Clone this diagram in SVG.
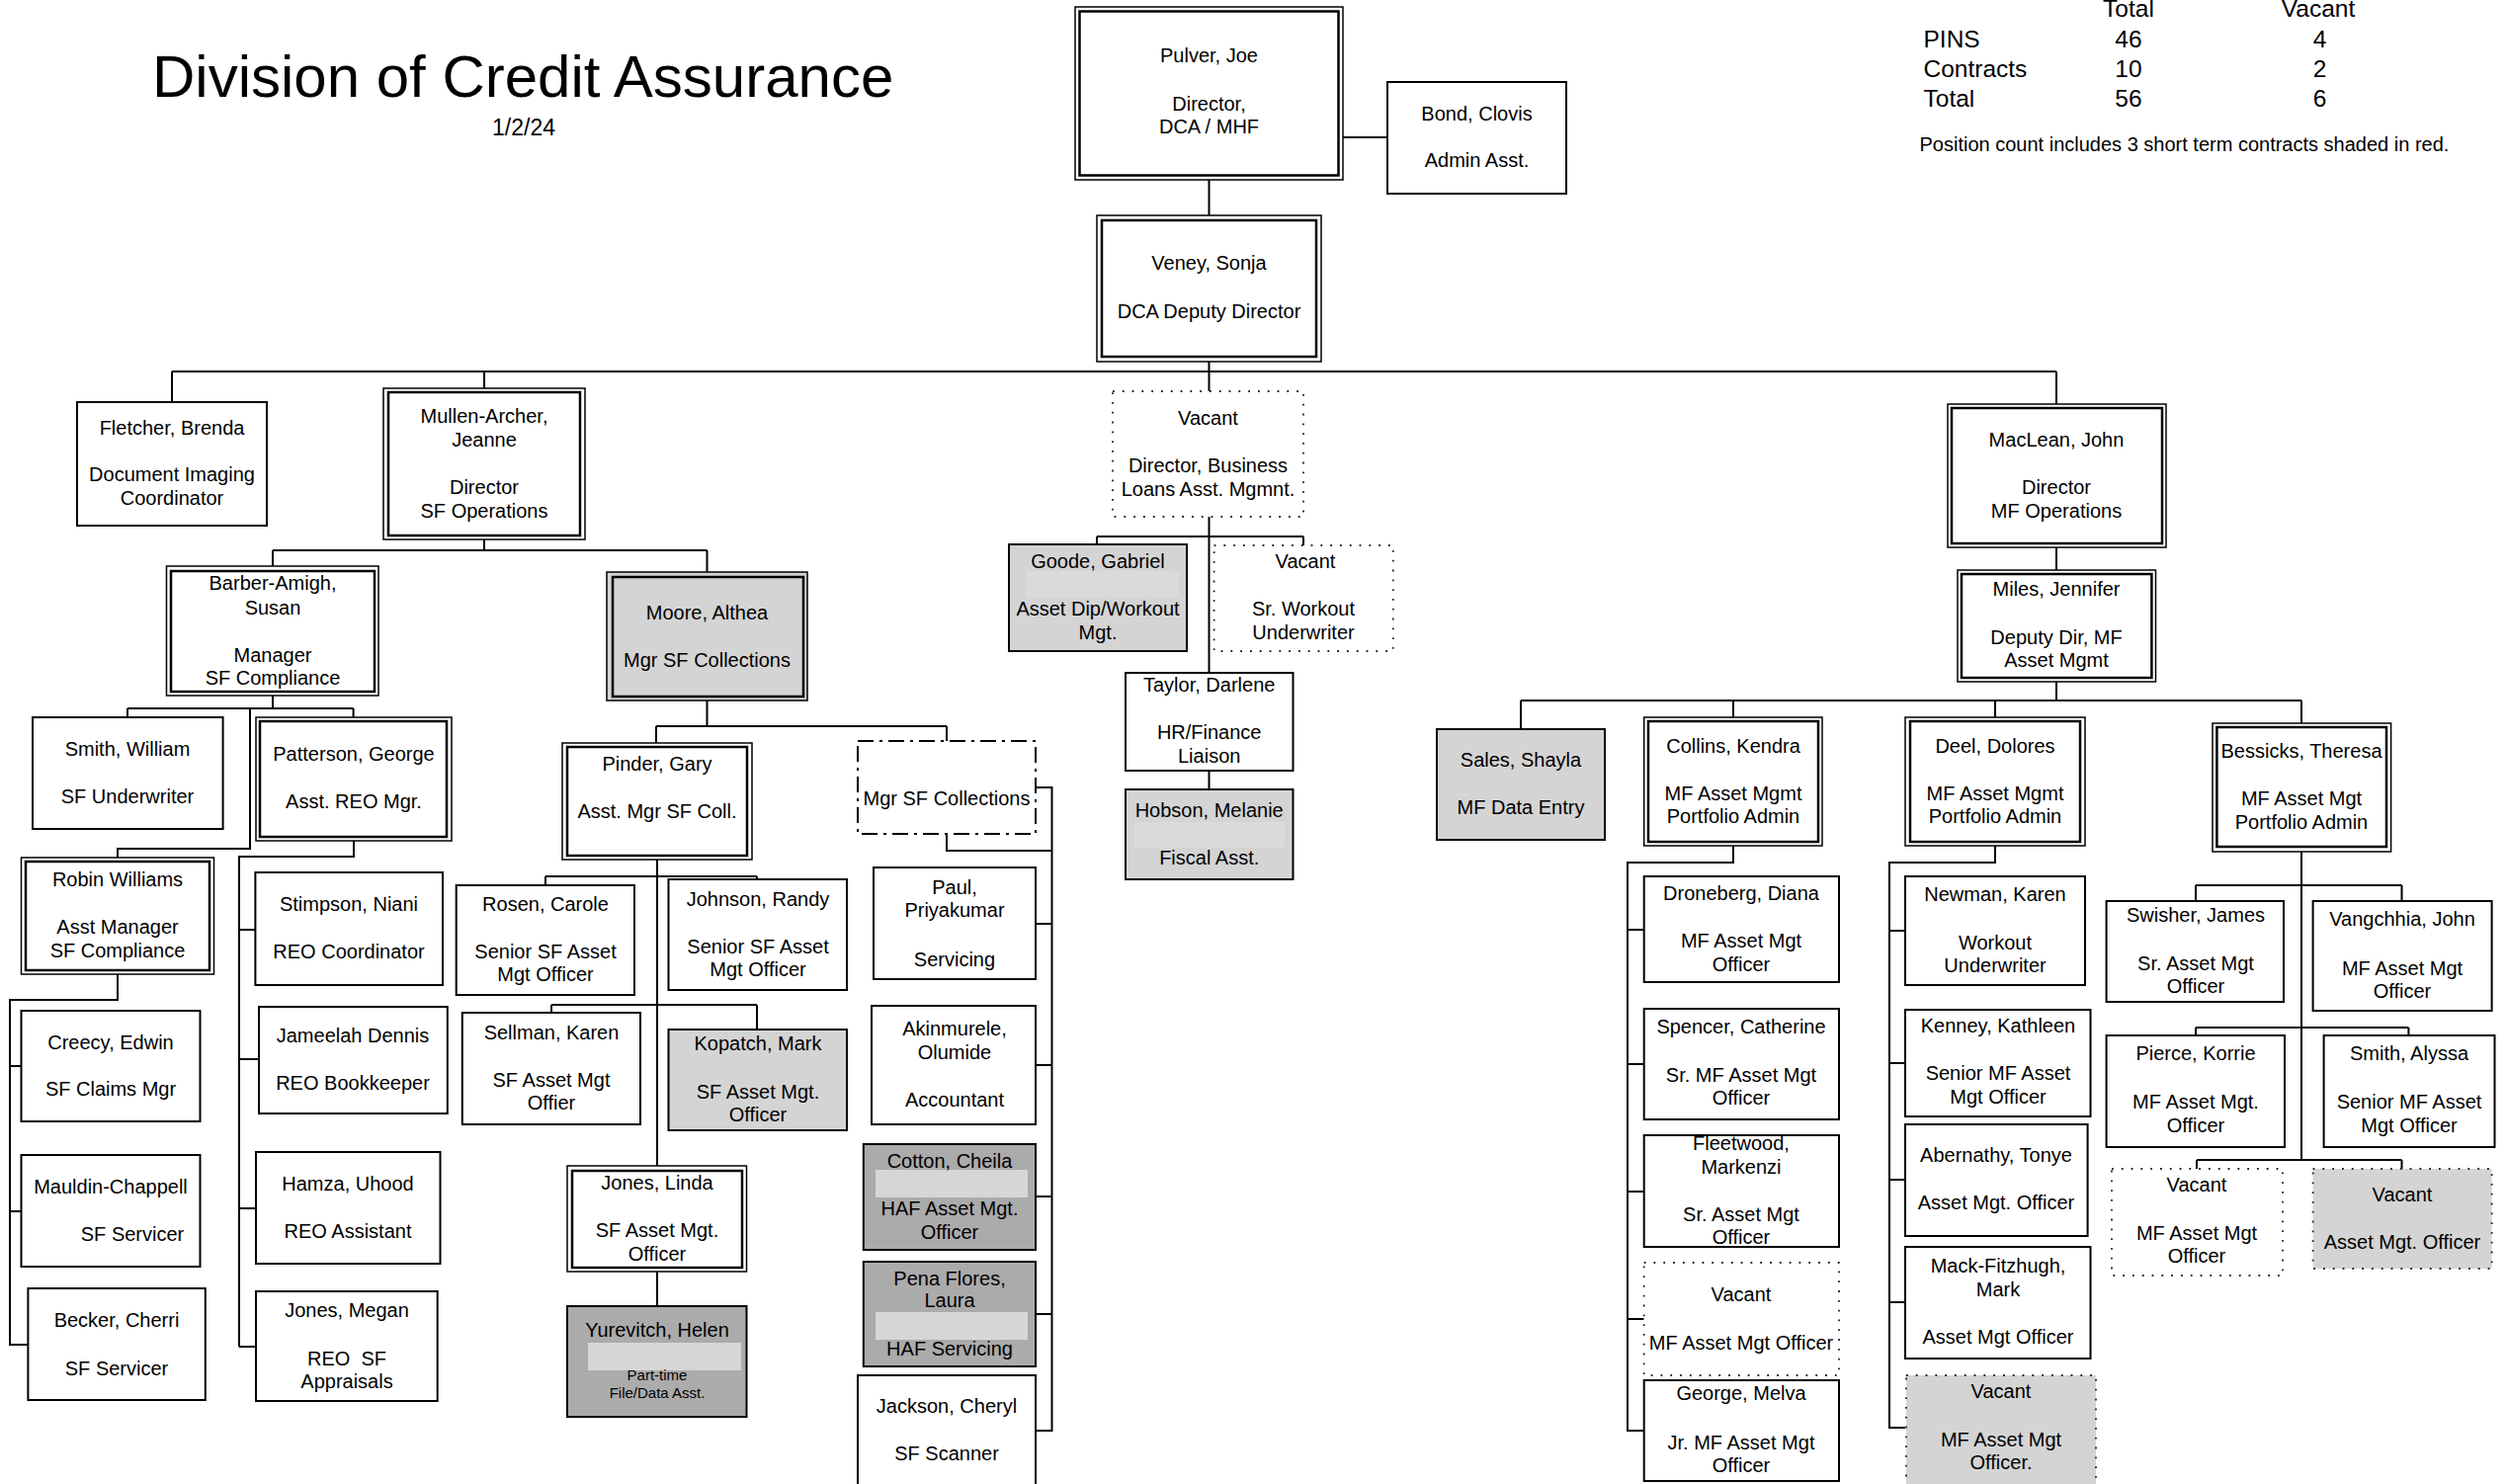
<svg xmlns="http://www.w3.org/2000/svg" width="2537" height="1502" viewBox="0 0 2537 1502">
<style>
text{font-family:"Liberation Sans",Arial,sans-serif;fill:#000}
.t{font-size:20px;text-anchor:middle}
.s{font-size:15px;text-anchor:middle}
.st{font-size:24.5px}
.b{fill:#fff;stroke:#000;stroke-width:2}
.o{fill:#fff;stroke:#000;stroke-width:1.5}
.i{fill:none;stroke:#000;stroke-width:2.5}
.g{fill:#d4d4d4}
.dg{fill:#ababab}
.dot{fill:#fff;stroke:#222;stroke-width:1.8;stroke-dasharray:1.8 8}
.dotg{fill:#d4d4d4;stroke:#222;stroke-width:1.8;stroke-dasharray:1.8 8}
.dd{fill:#fff;stroke:#000;stroke-width:2;stroke-dasharray:16 6 3 6}
.band{fill:#dadada}
.band2{fill:#d6d6d6}
#connectors path{fill:none;stroke:#000;stroke-width:2}
</style>

<g id="header">
<text x="154" y="98" style="font-size:60px">Division of Credit Assurance</text>
<text x="530" y="137" style="font-size:23px;text-anchor:middle">1/2/24</text>
</g>

<g id="stats">
<text class="st" x="2154" y="17" text-anchor="middle">Total</text>
<text class="st" x="2346" y="17" text-anchor="middle">Vacant</text>
<text class="st" x="1946.5" y="48">PINS</text>
<text class="st" x="2154" y="48" text-anchor="middle">46</text>
<text class="st" x="2347.5" y="48" text-anchor="middle">4</text>
<text class="st" x="1946.5" y="78">Contracts</text>
<text class="st" x="2154" y="78" text-anchor="middle">10</text>
<text class="st" x="2347.5" y="78" text-anchor="middle">2</text>
<text class="st" x="1946.5" y="108">Total</text>
<text class="st" x="2154" y="108" text-anchor="middle">56</text>
<text class="st" x="2347.5" y="108" text-anchor="middle">6</text>
<text x="1942.5" y="153" style="font-size:20px">Position count includes 3 short term contracts shaded in red.</text>
</g>

<g id="connectors">
<path d="M1223.5 182V218M1359 139H1404M1223.5 366V396"/>
<path d="M174 376H2081M174 376V407M490 376V393M2081 376V409"/>
<path d="M490 546V557M276 557H715.5M276 557V573M715.5 557V579"/>
<path d="M276 704V717M129 717H357.6M129 717V726M357.6 717V726M253 717V859H119V868"/>
<path d="M358 851V867H242V1363M242 941H258.4M242 1072H262M242 1223H259M242 1363H259"/>
<path d="M119 986V1012H10V1361H28.4M10 1079H21.5M10 1226H21.5"/>
<path d="M715.5 709V735M664 735H958M664 735V752M958 735V750"/>
<path d="M665 870V1180M552 887H766M552 887V896M766 887V890M558 1017H766M558 1017V1025M766 1017V1042M665 1287V1322"/>
<path d="M1048 797H1064.5V1448H1048M958 844V861H1064.5M1064.5 935H1048M1064.5 1078H1048M1064.5 1211H1048M1064.5 1330H1048"/>
<path d="M1223.5 523V681M1110 543H1319M1110 543V551M1319 543V552M1223.5 780V799"/>
<path d="M2081 554V577M2081 690V709M1539 709H2329M1539 709V738M1754 709V726M2019 709V726M2329 709V732"/>
<path d="M1754 856V873H1647V1448H1663.7M1647 941H1663.7M1647 1077H1663.7M1647 1206H1663.7M1647 1335H1663.7"/>
<path d="M2019 856V873H1912V1445H1928M1912 942H1928M1912 1076H1928M1912 1194H1928M1912 1318H1928"/>
<path d="M2329 862V1174M2222 896H2430.5M2222 896V912M2430.5 896V912M2222 1040H2437.4M2222 1040V1048M2437.4 1040V1048M2223 1174H2430.5M2223 1174V1183M2430.5 1174V1183"/>
</g>

<g id="n-pulver">
<rect class="o" x="1088" y="7" width="271" height="175"/>
<rect class="i" x="1092.5" y="11.5" width="262" height="166"/>
<text class="t" x="1223.5" y="63">Pulver, Joe</text>
<text class="t" x="1223.5" y="112">Director,</text>
<text class="t" x="1223.5" y="135">DCA / MHF</text>
</g>
<g id="n-bond">
<rect class="b" x="1404" y="83" width="181" height="113"/>
<text class="t" x="1494.5" y="122">Bond, Clovis</text>
<text class="t" x="1494.5" y="169">Admin Asst.</text>
</g>
<g id="n-veney">
<rect class="o" x="1110" y="218" width="227" height="148"/>
<rect class="i" x="1115" y="223" width="217" height="138"/>
<text class="t" x="1223.5" y="273">Veney, Sonja</text>
<text class="t" x="1223.5" y="322">DCA Deputy Director</text>
</g>
<g id="n-fletcher">
<rect class="b" x="78" y="407" width="192" height="125"/>
<text class="t" x="174" y="440">Fletcher, Brenda</text>
<text class="t" x="174" y="487">Document Imaging</text>
<text class="t" x="174" y="511">Coordinator</text>
</g>
<g id="n-mullen">
<rect class="o" x="388" y="393" width="204" height="153"/>
<rect class="i" x="393" y="397" width="194" height="145"/>
<text class="t" x="490" y="428">Mullen-Archer,</text>
<text class="t" x="490" y="452">Jeanne</text>
<text class="t" x="490" y="500">Director</text>
<text class="t" x="490" y="524">SF Operations</text>
</g>
<g id="n-vacant-dir">
<rect class="dot" x="1126" y="396" width="193" height="127"/>
<text class="t" x="1222.5" y="430">Vacant</text>
<text class="t" x="1222.5" y="478">Director, Business</text>
<text class="t" x="1222.5" y="502">Loans Asst. Mgmnt.</text>
</g>
<g id="n-maclean">
<rect class="o" x="1971" y="409" width="221" height="145"/>
<rect class="i" x="1975" y="413" width="213" height="137"/>
<text class="t" x="2081" y="452">MacLean, John</text>
<text class="t" x="2081" y="500">Director</text>
<text class="t" x="2081" y="524">MF Operations</text>
</g>
<g id="n-barber">
<rect class="o" x="168.5" y="573" width="214.5" height="131"/>
<rect class="i" x="173" y="578" width="206" height="122"/>
<text class="t" x="276" y="597">Barber-Amigh,</text>
<text class="t" x="276" y="622">Susan</text>
<text class="t" x="276" y="670">Manager</text>
<text class="t" x="276" y="693">SF Compliance</text>
</g>
<g id="n-moore">
<rect class="o g" x="614" y="579" width="203" height="130"/>
<rect class="i" x="620" y="584" width="193" height="121"/>
<text class="t" x="715.5" y="627">Moore, Althea</text>
<text class="t" x="715.5" y="675">Mgr SF Collections</text>
</g>
<g id="n-goode">
<rect class="b g" x="1021" y="551" width="180" height="108"/>
<rect class="band" x="1039" y="578" width="154" height="27"/>
<text class="t" x="1111" y="575">Goode, Gabriel</text>
<text class="t" x="1111" y="623">Asset Dip/Workout</text>
<text class="t" x="1111" y="647">Mgt.</text>
</g>
<g id="n-vacant-workout">
<rect class="dot" x="1228.6" y="552" width="181.2" height="107"/>
<text class="t" x="1321" y="575">Vacant</text>
<text class="t" x="1319" y="623">Sr. Workout</text>
<text class="t" x="1319" y="647">Underwriter</text>
</g>
<g id="n-taylor">
<rect class="b" x="1139" y="681" width="169.5" height="99"/>
<text class="t" x="1223.7" y="700">Taylor, Darlene</text>
<text class="t" x="1223.7" y="748">HR/Finance</text>
<text class="t" x="1223.7" y="772">Liaison</text>
</g>
<g id="n-hobson">
<rect class="b g" x="1139" y="799" width="169.5" height="91"/>
<rect class="band" x="1148" y="832" width="152" height="26"/>
<text class="t" x="1223.7" y="827">Hobson, Melanie</text>
<text class="t" x="1223.7" y="875">Fiscal Asst.</text>
</g>
<g id="n-sales">
<rect class="b g" x="1454" y="738" width="170" height="112"/>
<text class="t" x="1539" y="776">Sales, Shayla</text>
<text class="t" x="1539" y="824">MF Data Entry</text>
</g>
<g id="n-miles">
<rect class="o" x="1981" y="577" width="200.5" height="113"/>
<rect class="i" x="1985" y="581" width="192.4" height="105"/>
<text class="t" x="2081" y="603">Miles, Jennifer</text>
<text class="t" x="2081" y="652">Deputy Dir, MF</text>
<text class="t" x="2081" y="675">Asset Mgmt</text>
</g>
<g id="n-collins">
<rect class="o" x="1663.7" y="726" width="180.3" height="130"/>
<rect class="i" x="1668" y="730" width="172" height="122"/>
<text class="t" x="1754" y="762">Collins, Kendra</text>
<text class="t" x="1754" y="810">MF Asset Mgmt</text>
<text class="t" x="1754" y="833">Portfolio Admin</text>
</g>
<g id="n-deel">
<rect class="o" x="1928" y="726" width="182" height="130"/>
<rect class="i" x="1933" y="730" width="172" height="122"/>
<text class="t" x="2019" y="762">Deel, Dolores</text>
<text class="t" x="2019" y="810">MF Asset Mgmt</text>
<text class="t" x="2019" y="833">Portfolio Admin</text>
</g>
<g id="n-bessicks">
<rect class="o" x="2239" y="732" width="180.6" height="130"/>
<rect class="i" x="2243.4" y="736" width="171.6" height="121"/>
<text class="t" x="2329" y="767">Bessicks, Theresa</text>
<text class="t" x="2329" y="815">MF Asset Mgt</text>
<text class="t" x="2329" y="839">Portfolio Admin</text>
</g>
<g id="n-smith-william">
<rect class="b" x="33" y="726" width="192.6" height="113"/>
<text class="t" x="129" y="765">Smith, William</text>
<text class="t" x="129" y="813">SF Underwriter</text>
</g>
<g id="n-patterson">
<rect class="o" x="259" y="726" width="198" height="125"/>
<rect class="i" x="263" y="730" width="189" height="117"/>
<text class="t" x="358" y="770">Patterson, George</text>
<text class="t" x="358" y="818">Asst. REO Mgr.</text>
</g>
<g id="n-pinder">
<rect class="o" x="569" y="752" width="192" height="118"/>
<rect class="i" x="574" y="756" width="182" height="110"/>
<text class="t" x="665" y="780">Pinder, Gary</text>
<text class="t" x="665" y="828">Asst. Mgr SF Coll.</text>
</g>
<g id="n-mgr-sf-coll">
<rect class="dd" x="868" y="750" width="180" height="94"/>
<text class="t" x="958" y="815">Mgr SF Collections</text>
</g>
<g id="n-robin">
<rect class="o" x="21.5" y="868" width="195" height="118"/>
<rect class="i" x="26" y="872" width="186" height="110"/>
<text class="t" x="119" y="897">Robin Williams</text>
<text class="t" x="119" y="945">Asst Manager</text>
<text class="t" x="119" y="969">SF Compliance</text>
</g>
<g id="n-stimpson">
<rect class="b" x="258.4" y="883" width="189.6" height="114"/>
<text class="t" x="353" y="922">Stimpson, Niani</text>
<text class="t" x="353" y="970">REO Coordinator</text>
</g>
<g id="n-rosen">
<rect class="b" x="461.7" y="896" width="180.3" height="111"/>
<text class="t" x="552" y="922">Rosen, Carole</text>
<text class="t" x="552" y="970">Senior SF Asset</text>
<text class="t" x="552" y="993">Mgt Officer</text>
</g>
<g id="n-johnson">
<rect class="b" x="676.5" y="890" width="180.5" height="112"/>
<text class="t" x="767" y="917">Johnson, Randy</text>
<text class="t" x="767" y="965">Senior SF Asset</text>
<text class="t" x="767" y="988">Mgt Officer</text>
</g>
<g id="n-paul">
<rect class="b" x="884" y="878" width="164" height="113"/>
<text class="t" x="966" y="905">Paul,</text>
<text class="t" x="966" y="928">Priyakumar</text>
<text class="t" x="966" y="978">Servicing</text>
</g>
<g id="n-droneberg">
<rect class="b" x="1663.7" y="887" width="197.3" height="107"/>
<text class="t" x="1762" y="911">Droneberg, Diana</text>
<text class="t" x="1762" y="959">MF Asset Mgt</text>
<text class="t" x="1762" y="983">Officer</text>
</g>
<g id="n-newman">
<rect class="b" x="1928" y="887" width="182" height="110"/>
<text class="t" x="2019" y="912">Newman, Karen</text>
<text class="t" x="2019" y="961">Workout</text>
<text class="t" x="2019" y="984">Underwriter</text>
</g>
<g id="n-swisher">
<rect class="b" x="2131.6" y="912" width="179.4" height="102"/>
<text class="t" x="2222" y="933">Swisher, James</text>
<text class="t" x="2222" y="982">Sr. Asset Mgt</text>
<text class="t" x="2222" y="1005">Officer</text>
</g>
<g id="n-vangchhia">
<rect class="b" x="2340.6" y="912" width="181" height="111"/>
<text class="t" x="2431" y="937">Vangchhia, John</text>
<text class="t" x="2431" y="987">MF Asset Mgt</text>
<text class="t" x="2431" y="1010">Officer</text>
</g>
<g id="n-creecy">
<rect class="b" x="21.5" y="1023" width="181" height="112"/>
<text class="t" x="112" y="1062">Creecy, Edwin</text>
<text class="t" x="112" y="1109">SF Claims Mgr</text>
</g>
<g id="n-jameelah">
<rect class="b" x="262" y="1019" width="190.8" height="108"/>
<text class="t" x="357" y="1055">Jameelah Dennis</text>
<text class="t" x="357" y="1103">REO Bookkeeper</text>
</g>
<g id="n-sellman">
<rect class="b" x="467.8" y="1025" width="180.2" height="113"/>
<text class="t" x="558" y="1052">Sellman, Karen</text>
<text class="t" x="558" y="1100">SF Asset Mgt</text>
<text class="t" x="558" y="1123">Offier</text>
</g>
<g id="n-kopatch">
<rect class="b g" x="676.5" y="1042" width="180.5" height="102"/>
<text class="t" x="767" y="1063">Kopatch, Mark</text>
<text class="t" x="767" y="1112">SF Asset Mgt.</text>
<text class="t" x="767" y="1135">Officer</text>
</g>
<g id="n-akinmurele">
<rect class="b" x="882" y="1018" width="166" height="120"/>
<text class="t" x="966" y="1048">Akinmurele,</text>
<text class="t" x="966" y="1072">Olumide</text>
<text class="t" x="966" y="1120">Accountant</text>
</g>
<g id="n-spencer">
<rect class="b" x="1663.7" y="1021" width="197.3" height="112"/>
<text class="t" x="1762" y="1046">Spencer, Catherine</text>
<text class="t" x="1762" y="1095">Sr. MF Asset Mgt</text>
<text class="t" x="1762" y="1118">Officer</text>
</g>
<g id="n-kenney">
<rect class="b" x="1928" y="1022" width="187.5" height="108"/>
<text class="t" x="2022" y="1045">Kenney, Kathleen</text>
<text class="t" x="2022" y="1093">Senior MF Asset</text>
<text class="t" x="2022" y="1117">Mgt Officer</text>
</g>
<g id="n-pierce">
<rect class="b" x="2131.6" y="1048" width="180.4" height="113"/>
<text class="t" x="2222" y="1073">Pierce, Korrie</text>
<text class="t" x="2222" y="1122">MF Asset Mgt.</text>
<text class="t" x="2222" y="1146">Officer</text>
</g>
<g id="n-smith-alyssa">
<rect class="b" x="2351.6" y="1048" width="172.9" height="113"/>
<text class="t" x="2438" y="1073">Smith, Alyssa</text>
<text class="t" x="2438" y="1122">Senior MF Asset</text>
<text class="t" x="2438" y="1146">Mgt Officer</text>
</g>
<g id="n-cotton">
<rect class="b dg" x="873.8" y="1158" width="174.2" height="107"/>
<rect class="band2" x="886" y="1184" width="154" height="28"/>
<text class="t" x="961" y="1182">Cotton, Cheila</text>
<text class="t" x="961" y="1230">HAF Asset Mgt.</text>
<text class="t" x="961" y="1254">Officer</text>
</g>
<g id="n-jones-linda">
<rect class="o" x="574" y="1180" width="181.5" height="107"/>
<rect class="i" x="579" y="1185" width="172" height="98"/>
<text class="t" x="665" y="1204">Jones, Linda</text>
<text class="t" x="665" y="1252">SF Asset Mgt.</text>
<text class="t" x="665" y="1276">Officer</text>
</g>
<g id="n-hamza">
<rect class="b" x="259" y="1166" width="186.5" height="113"/>
<text class="t" x="352" y="1205">Hamza, Uhood</text>
<text class="t" x="352" y="1253">REO Assistant</text>
</g>
<g id="n-mauldin">
<rect class="b" x="21.5" y="1169" width="181" height="113"/>
<text class="t" x="112" y="1208">Mauldin-Chappell</text>
<text class="t" x="134" y="1256">SF Servicer</text>
</g>
<g id="n-fleetwood">
<rect class="b" x="1663.7" y="1149" width="197.3" height="113"/>
<text class="t" x="1762" y="1164">Fleetwood,</text>
<text class="t" x="1762" y="1188">Markenzi</text>
<text class="t" x="1762" y="1236">Sr. Asset Mgt</text>
<text class="t" x="1762" y="1259">Officer</text>
</g>
<g id="n-abernathy">
<rect class="b" x="1928" y="1138" width="184.6" height="113"/>
<text class="t" x="2020" y="1176">Abernathy, Tonye</text>
<text class="t" x="2020" y="1224">Asset Mgt. Officer</text>
</g>
<g id="n-vacant-mf1">
<rect class="dot" x="2137" y="1183" width="173" height="108"/>
<text class="t" x="2223" y="1206">Vacant</text>
<text class="t" x="2223" y="1255">MF Asset Mgt</text>
<text class="t" x="2223" y="1278">Officer</text>
</g>
<g id="n-vacant-amo">
<rect class="dotg" x="2340.6" y="1183" width="181" height="101"/>
<text class="t" x="2431" y="1216">Vacant</text>
<text class="t" x="2431" y="1264">Asset Mgt. Officer</text>
</g>
<g id="n-mack">
<rect class="b" x="1928" y="1262" width="187.5" height="113"/>
<text class="t" x="2022" y="1288">Mack-Fitzhugh,</text>
<text class="t" x="2022" y="1312">Mark</text>
<text class="t" x="2022" y="1360">Asset Mgt Officer</text>
</g>
<g id="n-pena">
<rect class="b dg" x="873.8" y="1277" width="174.2" height="106"/>
<rect class="band2" x="886" y="1328" width="154" height="28"/>
<text class="t" x="961" y="1301">Pena Flores,</text>
<text class="t" x="961" y="1323">Laura</text>
<text class="t" x="961" y="1372">HAF Servicing</text>
</g>
<g id="n-vacant-mf2">
<rect class="dot" x="1663.7" y="1278" width="197.3" height="114"/>
<text class="t" x="1762" y="1317">Vacant</text>
<text class="t" x="1762" y="1366">MF Asset Mgt Officer</text>
</g>
<g id="n-becker">
<rect class="b" x="28.4" y="1304" width="179.4" height="113"/>
<text class="t" x="118" y="1343">Becker, Cherri</text>
<text class="t" x="118" y="1392">SF Servicer</text>
</g>
<g id="n-jones-megan">
<rect class="b" x="259" y="1307" width="183.7" height="111"/>
<text class="t" x="351" y="1333">Jones, Megan</text>
<text class="t" x="351" y="1382" xml:space="preserve">REO  SF</text>
<text class="t" x="351" y="1405">Appraisals</text>
</g>
<g id="n-yurevitch">
<rect class="b dg" x="574" y="1322" width="181.5" height="112"/>
<rect class="band2" x="595" y="1359" width="155" height="28"/>
<text class="t" x="665" y="1353">Yurevitch, Helen</text>
<text class="s" x="665" y="1397">Part-time</text>
<text class="s" x="665" y="1415">File/Data Asst.</text>
</g>
<g id="n-jackson">
<rect class="b" x="868" y="1392" width="180" height="116"/>
<text class="t" x="958" y="1430">Jackson, Cheryl</text>
<text class="t" x="958" y="1478">SF Scanner</text>
</g>
<g id="n-vacant-mf3">
<rect class="dotg" x="1929" y="1392" width="192" height="114"/>
<text class="t" x="2025" y="1415">Vacant</text>
<text class="t" x="2025" y="1464">MF Asset Mgt</text>
<text class="t" x="2025" y="1487">Officer.</text>
</g>
<g id="n-george">
<rect class="b" x="1663.7" y="1397" width="197.3" height="102"/>
<text class="t" x="1762" y="1417">George, Melva</text>
<text class="t" x="1762" y="1467">Jr. MF Asset Mgt</text>
<text class="t" x="1762" y="1490">Officer</text>
</g>
</svg>
